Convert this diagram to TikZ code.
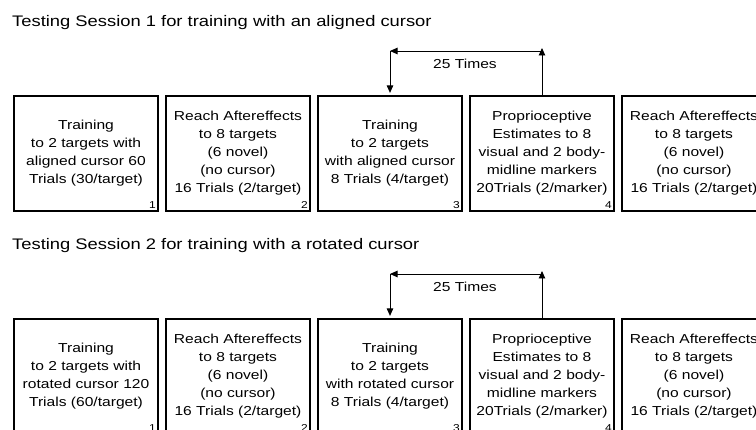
\documentclass[tikz,border=0pt]{standalone}
\usepackage{fontspec}
\setmainfont{Liberation Sans}[FakeStretch=1.2]
\usetikzlibrary{arrows.meta}

\begin{document}
\begin{tikzpicture}[x=1pt,y=-1pt,>={Triangle[length=7.5pt,width=6.5pt]},
    phase/.style={draw,line width=2.2pt,minimum width=144pt,minimum height=115pt,
        inner sep=0pt,align=center,font=\fontsize{13}{18}\selectfont},
    num/.style={anchor=south east,inner sep=0pt,font=\fontsize{10}{10}\selectfont},
    heading/.style={anchor=base west,inner sep=0pt,font=\fontsize{15.3}{18}\selectfont},
    loop/.style={line width=0.9pt}]
            \clip (0,0) rectangle (756,430);
            % session 1
            \node[heading] (h1) at (12,27){Testing Session 1 for training with an aligned cursor};
			\node[phase] (a1) at (86,153.5){Training\\to 2 targets with\\aligned cursor 60\\Trials (30/target)};
			\node[phase] (a2) at (238,153.5){Reach Aftereffects\\to 8 targets\\(6 novel)\\(no cursor)\\16 Trials (2/target)};
			\node[phase] (a3) at (390,153.5){Training\\to 2 targets\\with aligned cursor\\8 Trials (4/target)};
			\node[phase] (a4) at (542,153.5){Proprioceptive\\Estimates to 8\\visual and 2 body-\\midline markers\\20Trials (2/marker)};
			\node[phase] (a5) at (694,153.5){Reach Aftereffects\\to 8 targets\\(6 novel)\\(no cursor)\\16 Trials (2/target)};
            \node[num] at ([shift={(-3,-3)}]a1.south east){1};
            \node[num] at ([shift={(-3,-3)}]a2.south east){2};
            \node[num] at ([shift={(-3,-3)}]a3.south east){3};
            \node[num] at ([shift={(-3,-3)}]a4.south east){4};
            \node[num] at ([shift={(-3,-3)}]a5.south east){5};
            % repeat loop 3 -> 4
            \coordinate (ar) at (542,48);
            \coordinate (al) at (390,51);
            \draw[loop,->] (a4.north) -- (ar);
            \draw[loop,->] (ar |- al) -- (al);
            \draw[loop,->] (al) -- ([yshift=2pt]a3.north);
            \node[font=\fontsize{13}{18}\selectfont] (ta) at (465,64){25 Times};
            % session 2
            \node[heading] (h2) at (12,250){Testing Session 2 for training with a rotated cursor};
			\node[phase] (b1) at (86,376.5){Training\\to 2 targets with\\rotated cursor 120\\Trials (60/target)};
			\node[phase] (b2) at (238,376.5){Reach Aftereffects\\to 8 targets\\(6 novel)\\(no cursor)\\16 Trials (2/target)};
			\node[phase] (b3) at (390,376.5){Training\\to 2 targets\\with rotated cursor\\8 Trials (4/target)};
			\node[phase] (b4) at (542,376.5){Proprioceptive\\Estimates to 8\\visual and 2 body-\\midline markers\\20Trials (2/marker)};
			\node[phase] (b5) at (694,376.5){Reach Aftereffects\\to 8 targets\\(6 novel)\\(no cursor)\\16 Trials (2/target)};
            \node[num] at ([shift={(-3,-3)}]b1.south east){1};
            \node[num] at ([shift={(-3,-3)}]b2.south east){2};
            \node[num] at ([shift={(-3,-3)}]b3.south east){3};
            \node[num] at ([shift={(-3,-3)}]b4.south east){4};
            \node[num] at ([shift={(-3,-3)}]b5.south east){5};
            \coordinate (br) at (542,271);
            \coordinate (bl) at (390,274);
            \draw[loop,->] (b4.north) -- (br);
            \draw[loop,->] (br |- bl) -- (bl);
            \draw[loop,->] (bl) -- ([yshift=2pt]b3.north);
            \node[font=\fontsize{13}{18}\selectfont] (tb) at (465,287){25 Times};
		\end{tikzpicture}
\end{document}
